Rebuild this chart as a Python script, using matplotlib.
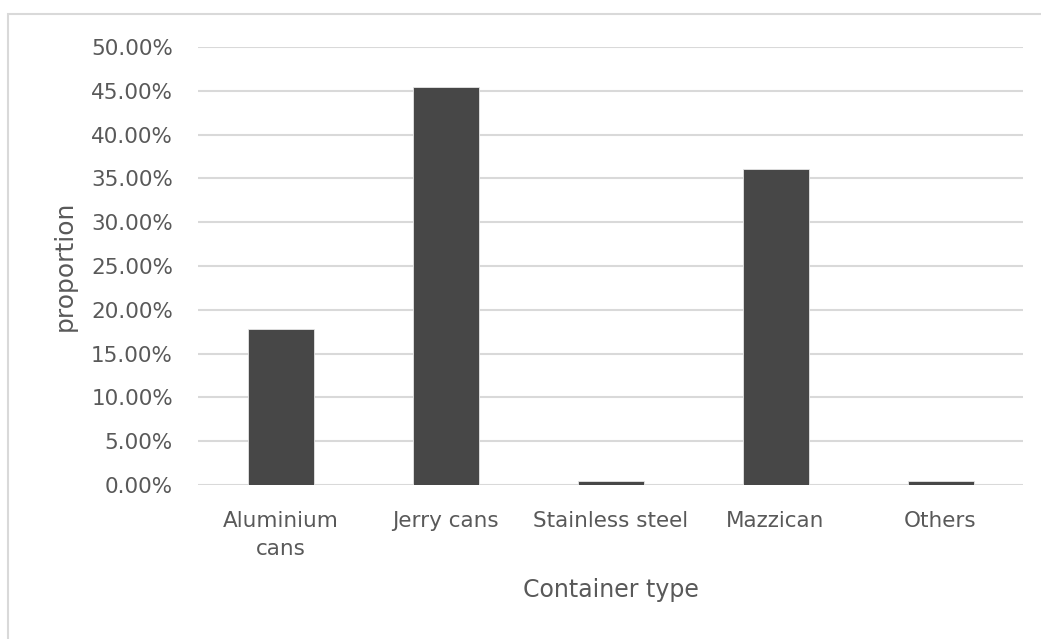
import matplotlib.pyplot as plt
from matplotlib.patches import Rectangle
from matplotlib.ticker import FuncFormatter

categories = ["Aluminium\ncans", "Jerry cans", "Stainless steel", "Mazzican", "Others"]
proportion = [17.8, 45.4, 0.45, 36.1, 0.45]

text_color = "#595959"
grid_color = "#d9d9d9"
bar_color = "#474747"

plt.rcParams["font.family"] = ["DejaVu Sans"]

fig = plt.figure(figsize=(10.41, 6.39), dpi=100)
fig.patches.append(Rectangle((8 / 1041, -0.1), 1.2, 1 - 14 / 639 + 0.1,
                             transform=fig.transFigure, fill=False,
                             edgecolor=grid_color, linewidth=1.5))

ax = fig.add_axes([198 / 1041, 1 - 485 / 639, 825 / 1041, 438 / 639])
x = range(len(categories))
ax.bar(x, proportion, width=0.4, color=bar_color, edgecolor="#e6e6e6",
       linewidth=0.6, zorder=3)

ax.set_xlim(-0.5, len(categories) - 0.5)
ax.set_ylim(0, 50)
ax.set_yticks(range(0, 51, 5))
ax.yaxis.set_major_formatter(FuncFormatter(lambda v, p: f"{v:.2f}%"))
ax.set_xticks(list(x))
ax.set_xticklabels(categories, linespacing=1.45, va="top")

ax.grid(axis="y", color=grid_color, linewidth=1.5, zorder=0)
for s in ax.spines.values():
    s.set_visible(False)
ax.tick_params(length=0, labelsize=15.5, colors=text_color)
ax.tick_params(axis="y", pad=18)
ax.tick_params(axis="x", pad=19)

ax.set_xlabel("Container type", fontsize=17, color=text_color, labelpad=14)
ax.set_ylabel("proportion", fontsize=18, color=text_color, labelpad=10)

fig.savefig("out.png", dpi=100)
